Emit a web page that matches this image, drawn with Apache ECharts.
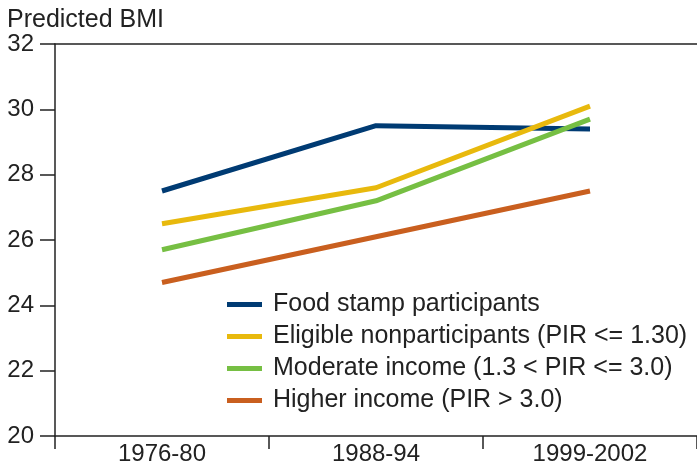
<!DOCTYPE html>
<html>
<head>
<meta charset="utf-8">
<script src="https://cdn.jsdelivr.net/npm/echarts@6/dist/echarts.min.js"></script>
<style>
  html, body { margin: 0; padding: 0; background: #fff; }
  #chart { width: 697px; height: 467px; }
</style>
</head>
<body>
<div id="chart"></div>
<script>
  // data
  var periods = ['1976-80', '1988-94', '1999-2002'];
  var foodStamp = [27.5, 29.5, 29.4];
  var eligibleNon = [26.5, 27.6, 30.1];
  var moderateIncome = [25.7, 27.2, 29.7];
  var higherIncome = [24.7, 26.1, 27.5];
  var seriesNames = [
    'Food stamp participants',
    'Eligible nonparticipants (PIR <= 1.30)',
    'Moderate income (1.3 < PIR <= 3.0)',
    'Higher income (PIR > 3.0)'
  ];
  var colors = ['#003b73', '#e8b90d', '#76bf43', '#c95f1f'];

  var font = 'Liberation Sans, Arial, Helvetica, sans-serif';
  var chart = echarts.init(document.getElementById('chart'));

  function line(name, data, color) {
    return {
      name: name,
      type: 'line',
      data: data,
      symbol: 'none',
      lineStyle: { color: color, width: 5, cap: 'butt' },
      itemStyle: { color: color },
      z: 3
    };
  }

  chart.setOption({
    animation: false,
    color: colors,
    title: {
      text: 'Predicted BMI',
      left: 2,
      top: 3,
      textStyle: { fontFamily: font, fontSize: 25, fontWeight: 'normal', color: '#222' }
    },
    grid: { left: 55, right: -3, top: 44, bottom: 31 },
    legend: {
      orient: 'vertical',
      left: 222,
      top: 287,
      itemWidth: 35,
      itemHeight: 5,
      itemGap: 7,
      icon: 'rect',
      textStyle: { fontFamily: font, fontSize: 25, color: '#222', padding: [0, 0, 0, 6] },
      data: seriesNames
    },
    xAxis: [{
      type: 'category',
      data: periods,
      position: 'bottom',
      boundaryGap: true,
      axisLine: { lineStyle: { color: '#222', width: 1.5 } },
      axisTick: { show: true, length: 13, inside: false, lineStyle: { color: '#222', width: 1.5 } },
      axisLabel: { fontFamily: font, fontSize: 24, color: '#222', margin: 6 }
    }, {
      type: 'category',
      data: periods,
      position: 'top',
      axisLine: { lineStyle: { color: '#222', width: 1.5 } },
      axisTick: { show: false },
      axisLabel: { show: false }
    }],
    yAxis: {
      type: 'value',
      min: 20,
      max: 32,
      interval: 2,
      axisLine: { show: true, lineStyle: { color: '#222', width: 1.5 } },
      axisTick: { show: true, length: 15, lineStyle: { color: '#222', width: 1.5 } },
      splitLine: { show: false },
      axisLabel: { fontFamily: font, fontSize: 24, color: '#222', margin: 21 }
    },
    series: [
      line(seriesNames[0], foodStamp, colors[0]),
      line(seriesNames[1], eligibleNon, colors[1]),
      line(seriesNames[2], moderateIncome, colors[2]),
      line(seriesNames[3], higherIncome, colors[3])
    ]
  });
</script>
</body>
</html>
